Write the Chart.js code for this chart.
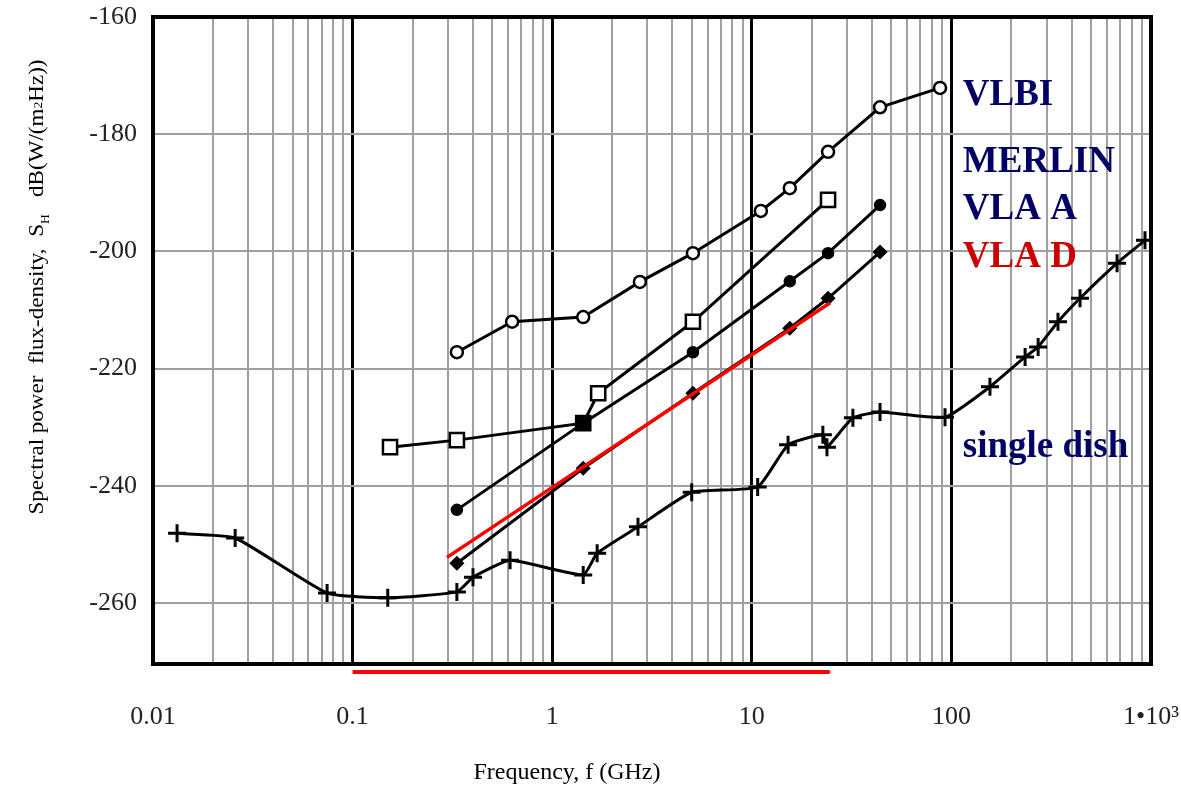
<!DOCTYPE html>
<html>
<head>
<meta charset="utf-8">
<script src="https://cdn.jsdelivr.net/npm/chart.js@4.4.1/dist/chart.umd.min.js"></script>
<style>
html,body{margin:0;padding:0;background:#fff;}
</style>
</head>
<body>
<canvas id="myChart" width="1181" height="785"></canvas>
<script>
// frequencies in GHz, flux density in dB(W/(m2Hz))
const vlbiFreq = [0.333, 0.63, 1.43, 2.75, 5.07, 11.1, 15.5, 24.1, 43.9, 87.7];
const vlbiFlux = [-217.2, -212.0, -211.2, -205.2, -200.3, -193.1, -189.2, -183.0, -175.4, -172.1];

const merlinFreq = [0.154, 0.333, 1.43, 1.70, 5.07, 24.1];
const merlinFlux = [-233.4, -232.2, -229.3, -224.2, -212.0, -191.2];

const vlaAFreq = [0.333, 1.43, 5.07, 15.5, 24.1, 43.9];
const vlaAFlux = [-244.1, -229.3, -217.2, -205.1, -200.3, -192.1];

const vlaDFreq = [0.333, 1.43, 5.07, 15.5, 24.1, 43.9];
const vlaDFlux = [-253.2, -237.0, -224.2, -213.1, -208.0, -200.1];

const fitFreq = [0.297, 24.6];
const fitFlux = [-252.2, -208.8];

const dishFreq = [0.0132, 0.0258, 0.0745, 0.150, 0.333, 0.401, 0.615, 1.43, 1.68, 2.69, 5.0, 10.7, 15.2, 22.7, 23.8, 32.1, 43.9, 92.9, 156, 234, 272, 342, 441, 676, 933];
const dishFlux = [-248.1, -248.9, -258.3, -259.1, -258.1, -255.6, -252.7, -255.2, -251.5, -247.0, -241.1, -240.2, -233.0, -231.3, -233.4, -228.4, -227.4, -228.3, -223.1, -218.0, -216.3, -212.0, -208.0, -202.0, -198.1];

// red band under the axis (GHz)
const bandFreq = [0.1, 24.6];

const xDecades = [0.01, 0.1, 1, 10, 100, 1000];
const xTickLabels = ['0.01', '0.1', '1', '10', '100', '1\u202210\u00b3'];
const yTicks = [-160, -180, -200, -220, -240, -260];

const seriesNames = ['VLBI', 'MERLIN', 'VLA A', 'VLA D', 'single dish'];
const nameFreq = [114, 114, 114, 114, 114];
const nameFlux = [-175.1, -186.4, -194.5, -202.7, -235.1];
const nameColors = ['#000066', '#000066', '#000066', '#cc0000', '#000066'];

const serif = '"Liberation Serif", "Times New Roman", serif';

function pts(xs, ys) {
    return xs.map((x, i) => ({x: x, y: ys[i]}));
}

function isDecade(v) {
    const l = Math.log10(v);
    return Math.abs(l - Math.round(l)) < 1e-6;
}

function minorTicks() {
    const list = [];
    for (let d = -2; d <= 2; d++) {
        for (let m = 1; m <= 9; m++) list.push(+(m * Math.pow(10, d)).toPrecision(6));
    }
    list.push(1000);
    return list;
}

const extras = {
    id: 'extras',
    afterDraw(chart) {
        const ctx = chart.ctx;
        const a = chart.chartArea;
        const xs = chart.scales.x;
        const ys = chart.scales.y;
        ctx.save();
        // frame
        ctx.strokeStyle = '#000';
        ctx.lineWidth = 4;
        ctx.strokeRect(a.left, a.top, a.right - a.left, a.bottom - a.top);
        // red band under axis
        ctx.strokeStyle = '#ff0000';
        ctx.lineWidth = 4;
        ctx.beginPath();
        ctx.moveTo(xs.getPixelForValue(bandFreq[0]), a.bottom + 8);
        ctx.lineTo(xs.getPixelForValue(bandFreq[1]), a.bottom + 8);
        ctx.stroke();
        // series names
        ctx.font = 'bold 37px ' + serif;
        ctx.textAlign = 'left';
        ctx.textBaseline = 'alphabetic';
        seriesNames.forEach((n, i) => {
            ctx.fillStyle = nameColors[i];
            ctx.fillText(n, xs.getPixelForValue(nameFreq[i]), ys.getPixelForValue(nameFlux[i]));
        });
        // x title
        ctx.fillStyle = '#000';
        ctx.font = '24px ' + serif;
        ctx.textAlign = 'center';
        ctx.fillText('Frequency, f (GHz)', 567, 779);
        // y title with subscripts
        ctx.textAlign = 'left';
        const big = '22px ' + serif;
        const small = '13px ' + serif;
        const parts = [
            ['Spectral power  flux-density,  S', big, 0],
            ['H', small, 9],
            ['   dB(W/(m', big, 0],
            ['2', small, 2],
            ['Hz))', big, 0]
        ];
        let total = 0;
        parts.forEach(p => { ctx.font = p[1]; total += ctx.measureText(p[0]).width; });
        ctx.translate(37, 287);
        ctx.rotate(-Math.PI / 2);
        ctx.scale(455 / total, 1);
        ctx.textBaseline = 'middle';
        let px = -total / 2;
        parts.forEach(p => {
            ctx.font = p[1];
            ctx.fillText(p[0], px, p[2]);
            px += ctx.measureText(p[0]).width;
        });
        ctx.restore();
    }
};

const ctx = document.getElementById('myChart');

new Chart(ctx, {
    type: 'line',
    data: {
        datasets: [
            {
                label: 'fit',
                data: pts(fitFreq, fitFlux),
                borderColor: '#ff0000',
                borderWidth: 3.5,
                pointRadius: 0,
                order: 0
            },
            {
                label: 'VLBI',
                data: pts(vlbiFreq, vlbiFlux),
                borderColor: '#000',
                borderWidth: 3,
                pointStyle: 'circle',
                pointRadius: 6,
                pointBorderWidth: 2.5,
                pointBackgroundColor: '#fff',
                pointBorderColor: '#000',
                order: 1
            },
            {
                label: 'MERLIN',
                data: pts(merlinFreq, merlinFlux),
                borderColor: '#000',
                borderWidth: 3,
                pointStyle: 'rect',
                pointRadius: 10,
                pointBorderWidth: 2.5,
                pointBackgroundColor: ['#fff', '#fff', '#000', '#fff', '#fff', '#fff'],
                pointBorderColor: '#000',
                order: 1
            },
            {
                label: 'VLA A',
                data: pts(vlaAFreq, vlaAFlux),
                borderColor: '#000',
                borderWidth: 3,
                pointStyle: 'circle',
                pointRadius: 5.5,
                pointBorderWidth: 1.5,
                pointBackgroundColor: '#000',
                pointBorderColor: '#000',
                order: 1
            },
            {
                label: 'VLA D',
                data: pts(vlaDFreq, vlaDFlux),
                borderColor: '#000',
                borderWidth: 3,
                pointStyle: 'rectRot',
                pointRadius: 6.5,
                pointBorderWidth: 1.5,
                pointBackgroundColor: '#000',
                pointBorderColor: '#000',
                order: 1
            },
            {
                label: 'single dish',
                data: pts(dishFreq, dishFlux),
                borderColor: '#000',
                borderWidth: 3,
                tension: 0.15,
                pointStyle: 'cross',
                pointRadius: 9,
                pointBorderWidth: 3,
                pointBorderColor: '#000',
                order: 1
            }
        ]
    },
    options: {
        responsive: false,
        animation: false,
        layout: {padding: {left: 0, top: 17, right: 30, bottom: 0}},
        plugins: {
            legend: {display: false},
            tooltip: {enabled: false}
        },
        scales: {
            x: {
                type: 'logarithmic',
                min: 0.01,
                max: 1000,
                afterBuildTicks: scale => { scale.ticks = minorTicks().map(v => ({value: v})); },
                afterFit: scale => { scale.height = 121; scale.paddingLeft = 0; scale.paddingRight = 0; },
                border: {display: false},
                grid: {
                    drawTicks: false,
                    color: c => isDecade(c.tick.value) ? '#000' : '#a0a0a0',
                    lineWidth: c => isDecade(c.tick.value) ? 3 : 2
                },
                ticks: {
                    autoSkip: false,
                    maxRotation: 0,
                    padding: 38,
                    color: '#222',
                    font: {family: serif, size: 26},
                    callback: function(value) {
                        const i = xDecades.findIndex(d => Math.abs(d - value) / d < 1e-6);
                        return i >= 0 ? xTickLabels[i] : '';
                    }
                }
            },
            y: {
                type: 'linear',
                min: -270.4,
                max: -160,
                afterBuildTicks: scale => { scale.ticks = yTicks.map(v => ({value: v})); },
                afterFit: scale => { scale.width = 153; scale.paddingTop = 0; scale.paddingBottom = 0; },
                border: {display: false},
                grid: {drawTicks: false, color: '#a0a0a0', lineWidth: 2},
                ticks: {
                    padding: 16,
                    color: '#222',
                    font: {family: serif, size: 26},
                    callback: v => String(v)
                }
            }
        }
    },
    plugins: [extras]
});
</script>
</body>
</html>
